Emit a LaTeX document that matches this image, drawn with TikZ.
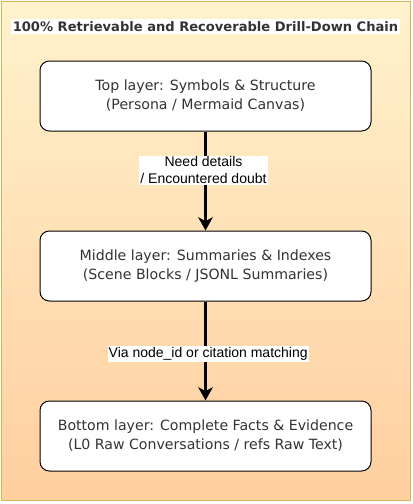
\documentclass[tikz,border=0pt]{standalone}
\usepackage{fontspec}
\setmainfont{DejaVu Sans}
\newfontfamily\labelfont{Liberation Sans}
\usetikzlibrary{arrows.meta,positioning}
\definecolor{panelborder}{HTML}{D6B656}
\definecolor{paneltop}{HTML}{FFF2CC}
\definecolor{panelbottom}{HTML}{FFCE9F}
\definecolor{layertext}{HTML}{333333}

\begin{document}
\begin{tikzpicture}[
        x=0.75pt,y=-0.75pt,
        layer/.style={draw,rounded corners=7pt,fill=white,line width=0.75pt,
                      minimum width=248.25pt,minimum height=52.5pt,
                      align=center,text=layertext,
                      font=\fontsize{10.6pt}{14.3pt}\selectfont,inner sep=2pt},
        arr/.style={-{Stealth[length=10pt,width=11pt,inset=3pt]},line width=2.25pt},
        lbl/.style={fill=white,align=center,inner sep=0.8pt,
                    font=\labelfont\fontsize{10.5pt}{12.5pt}\selectfont},
      ]
        \useasboundingbox (0,0) rectangle (412,504);
        % background panel
        \shade[top color=paneltop,bottom color=panelbottom,draw=panelborder,
               line width=0.75pt] (1,1) rectangle (410,500);
        \node[fill=white,inner sep=1.5pt,text=layertext,
              font=\bfseries\fontsize{9.8pt}{11pt}\selectfont](title) at (205.5,26.5)
              {100\% Retrievable and Recoverable Drill-Down Chain};
        \node[layer](top) at (205.5,96){Top layer: Symbols \& Structure\\(Persona / Mermaid Canvas)};
        \node[layer](mid) at (205.5,266){Middle layer: Summaries \& Indexes\\(Scene Blocks / JSONL Summaries)};
        \node[layer](bot) at (205.5,436){Bottom layer: Complete Facts \& Evidence\\(L0 Raw Conversations / refs Raw Text)};
        \draw[arr](top)--node[lbl,pos=0.39,xshift=-1.5pt](need){Need details\\/ Encountered doubt}(mid);
        \draw[arr](mid)--node[lbl,pos=0.53,xshift=2pt](via){Via node\_id or citation matching}(bot);
      \end{tikzpicture}
\end{document}
